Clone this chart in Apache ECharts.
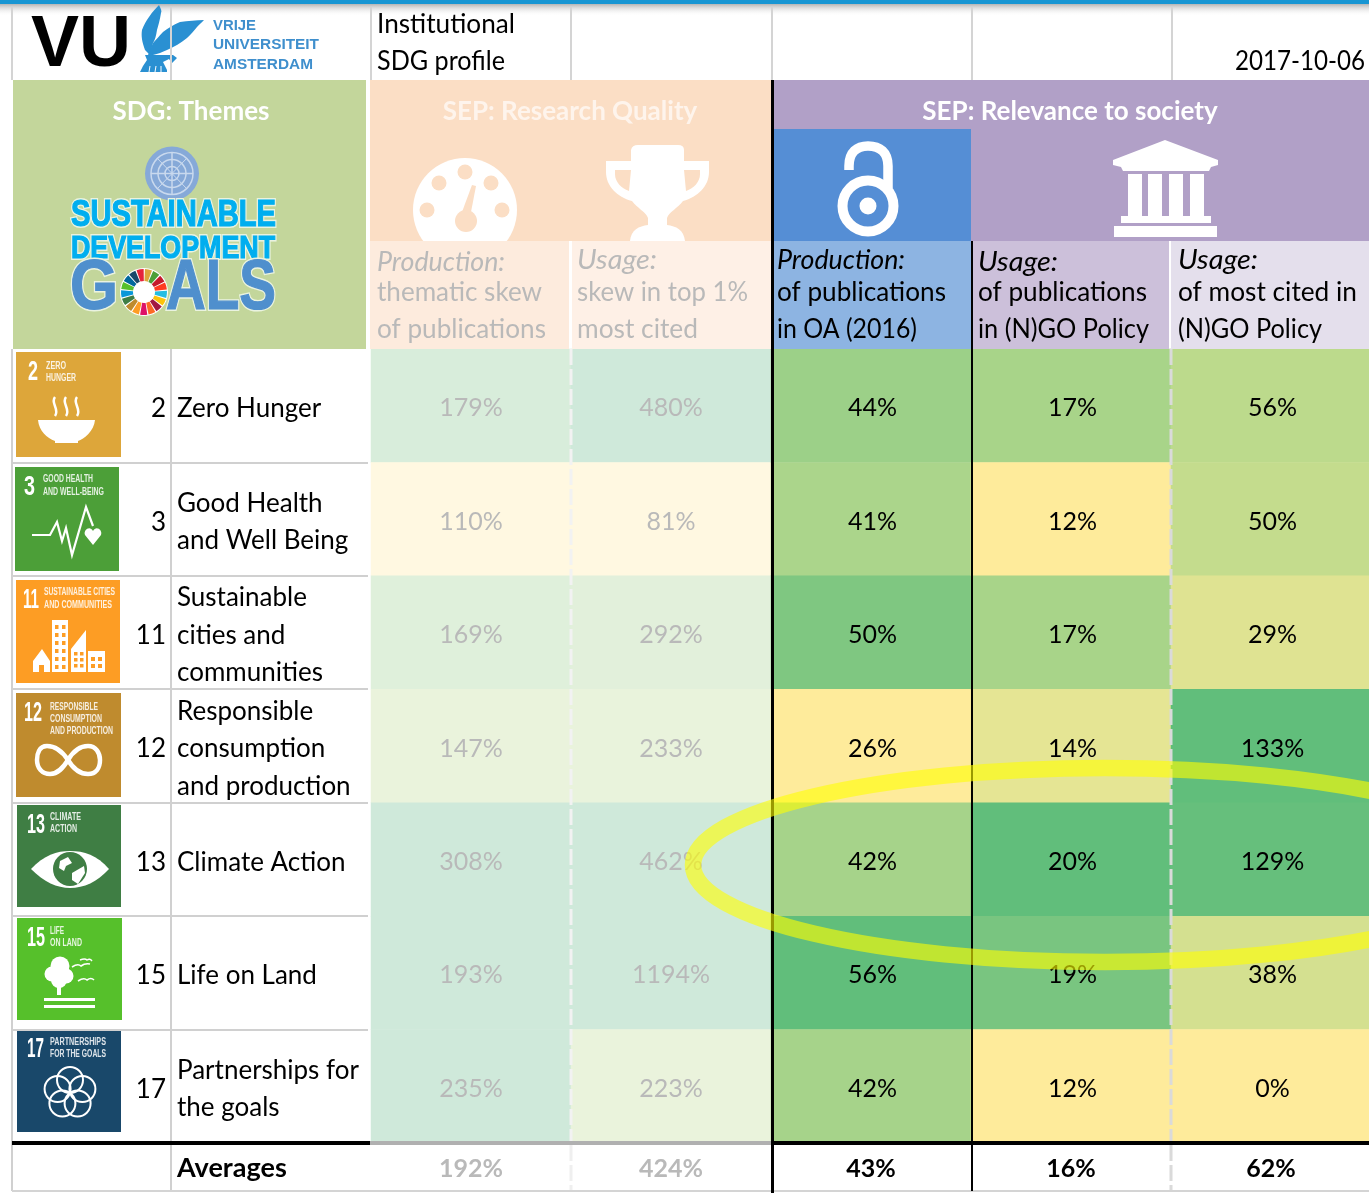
<!DOCTYPE html>
<html>
<head>
<meta charset="utf-8">
<title>Institutional SDG profile</title>
<script src="https://cdn.jsdelivr.net/npm/echarts@6/dist/echarts.min.js"></script>
<style>
    html, body { margin: 0; padding: 0; background: #fff; }
    #main { width: 1369px; height: 1193px; }
</style>
</head>
<body>
<div id="main"></div>
<script>
var sdgNumbers = ['2', '3', '11', '12', '13', '15', '17'];
var sdgThemes = ['Zero Hunger', 'Good Health\nand Well Being', 'Sustainable\ncities and\ncommunities', 'Responsible\nconsumption\nand production', 'Climate Action', 'Life on Land', 'Partnerships for\nthe goals'];
var columns = ['Production skew', 'Usage skew', 'Production OA', 'Usage publications', 'Usage most cited'];
var thematicSkew = [179, 110, 169, 147, 308, 193, 235];
var top1Skew = [480, 81, 292, 233, 462, 1194, 223];
var openAccess = [44, 41, 50, 26, 42, 56, 42];
var policyPubs = [17, 12, 17, 14, 20, 19, 12];
var policyCited = [56, 50, 29, 133, 129, 38, 0];
var averages = [192, 424, 43, 16, 62];

var FONT = 'Lato';
var FADED = '#B9B9B9';
var chart = echarts.init(document.getElementById('main'));
var ctx = document.createElement('canvas').getContext('2d');

function fit(text, font, w) {
    ctx.font = font;
    return w / ctx.measureText(text).width;
}
function T(x, y, text, font, fill, extra) {
    var el = { type: 'text', x: x, y: y, z: 10, style: { text: text, font: font, fill: fill, align: 'left', verticalAlign: 'middle' } };
    if (extra) {
        if (extra.w) el.scaleX = fit(text, font, extra.w);
        if (extra.align) el.style.align = extra.align;
        if (extra.stroke) { el.style.stroke = extra.stroke; el.style.lineWidth = extra.lw; }
    }
    return el;
}
function R(x, y, w, h, fill) {
    return { type: 'rect', z: 10, shape: { x: x, y: y, width: w, height: h }, style: { fill: fill } };
}
function L(x1, y1, x2, y2, stroke, lw, dash) {
    return { type: 'line', z: 20, shape: { x1: x1, y1: y1, x2: x2, y2: y2 }, style: { stroke: stroke, lineWidth: lw, lineDash: dash || null } };
}
function C(cx, cy, r, fill, stroke, lw) {
    return { type: 'circle', z: 10, shape: { cx: cx, cy: cy, r: r }, style: { fill: fill || 'none', stroke: stroke || null, lineWidth: lw || 0 } };
}
// the graphic component has no path type, so every svg path gets its own registered shape
var shapeCount = 0;
function P(d, fill, stroke, lw) {
    var name = 'iconPath' + (shapeCount++);
    echarts.graphic.registerShape(name, echarts.graphic.extendPath(d));
    return { type: name, z: 10, style: { fill: fill || 'none', stroke: stroke || null, lineWidth: lw || 0 } };
}

var els = [];
function add() { for (var i = 0; i < arguments.length; i++) els.push(arguments[i]); }
// logo lettering: white halo first, then the heavy letter on top
function mark(x, y, text, font, fill, w) {
    add(T(x, y, text, font, '#fff', { w: w, stroke: '#EAF3E0', lw: 4 }));
    add(T(x, y, text, font, fill, { w: w, stroke: fill, lw: 1.2 }));
}

// top bar of the window
add(R(0, 4, 1369, 12, { type: 'linear', x: 0, y: 0, x2: 0, y2: 1, colorStops: [{ offset: 0, color: 'rgba(120,120,120,0.55)' }, { offset: 1, color: 'rgba(255,255,255,0)' }] }));
add(R(0, 0, 1369, 4, '#1896D3'));
[12, 171, 371, 571, 772, 972, 1172].forEach(function (x) { add(L(x, 7, x, 80, '#D4D4D4', 2)); });

// VU logo
add(T(31, 46, 'VU', 'bold 72px "Liberation Sans"', '#000', { w: 100 }));
var griffin = '#2A90D2';
add(P('M159 5 C161 9 162 11 161 13 C160 20 158 26 157 30 C156 36 155 40 153 43 L150 55 L145 50 C142 42 141 36 142 30 C146 20 152 12 159 5 Z', griffin));
add(P('M204 20 C196 20 188 21 180 22 C173 25 168 28 163 32 C159 36 156 40 153 43 L148 55 L153 55 C158 54 162 52 167 50 C174 47 181 43 187 38 C191 34 194 31 197 27 C199 25 202 22 204 20 Z', griffin));
add(P('M145 55 L173 55 L177 58 L172 63 L169 59 L163 62 L167 70 L167 72 L140 72 L143 66 L147 60 Z', griffin));
add(L(150, 66, 149, 72, '#fff', 1), L(156, 66, 155, 72, '#fff', 1), L(161, 66, 161, 72, '#fff', 1));
add(T(213, 26, 'VRIJE', 'bold 15px "Liberation Sans"', '#3F8FCD', { w: 43 }));
add(T(213, 45, 'UNIVERSITEIT', 'bold 15px "Liberation Sans"', '#3F8FCD', { w: 106 }));
add(T(213, 65, 'AMSTERDAM', 'bold 15px "Liberation Sans"', '#3F8FCD', { w: 100 }));

// header texts
add(T(377, 24, 'Institutional', '27px ' + FONT, '#000', { w: 138 }));
add(T(377, 61, 'SDG profile', '27px ' + FONT, '#000', { w: 128 }));
add(T(1365, 61, '2017-10-06', '27px ' + FONT, '#000', { align: 'right', w: 130 }));

// header panels
add(R(13, 80, 353, 269, '#C3D69B'));
add(R(370, 80, 402, 161, '#FBDEC5'));
add(R(773, 80, 596, 161, '#B1A0C7'));
add(R(773, 129, 198, 112, '#558ED5'));
add(T(191, 112, 'SDG: Themes', 'bold 26px ' + FONT, '#fff', { align: 'center' }));
add(T(570, 112, 'SEP: Research Quality', 'bold 26px ' + FONT, '#FEF4EC', { align: 'center' }));
add(T(1070, 112, 'SEP: Relevance to society', 'bold 26px ' + FONT, '#fff', { align: 'center' }));

// UN emblem
add(C(172, 173.5, 27, '#86A9D8'));
add(C(172, 173.5, 21, 'none', '#C9D9EE', 1.5), C(172, 173.5, 14, 'none', '#C9D9EE', 1.5), C(172, 173.5, 7, '#7EA3D6', '#C9D9EE', 1.5));
add(L(172, 152, 172, 195, '#C9D9EE', 1.5), L(151, 173.5, 193, 173.5, '#C9D9EE', 1.5), L(157, 158, 187, 189, '#C9D9EE', 1), L(187, 158, 157, 189, '#C9D9EE', 1));
els.slice(-4).forEach(function (e) { e.z = 10; });

// SDG wordmark
mark(71, 216, 'SUSTAINABLE', 'bold 36px "Liberation Sans"', '#00AEEF', 205);
mark(71, 249, 'DEVELOPMENT', 'bold 32px "Liberation Sans"', '#00AEEF', 204);
mark(70, 290, 'G', 'bold 70px "Liberation Sans"', '#4F8FCD', 48);
mark(166, 290, 'ALS', 'bold 70px "Liberation Sans"', '#4F8FCD', 110);
var ringColors = ['#E5243B', '#DDA63A', '#4C9F38', '#C5192D', '#FF3A21', '#26BDE2', '#FCC30B', '#A21942', '#FD6925', '#DD1367', '#FD9D24', '#BF8B2E', '#3F7E44', '#0A97D9', '#56C02B', '#00689D', '#19486A'];
add(C(144, 292, 24, '#fff'));
ringColors.forEach(function (c, i) {
    add({ type: 'sector', z: 10, shape: { cx: 144, cy: 292, r: 23, r0: 11, startAngle: (i / 17) * Math.PI * 2 - 1.9, endAngle: ((i + 0.85) / 17) * Math.PI * 2 - 1.9 }, style: { fill: c } });
});

// speedometer
add(C(465, 210, 52, '#fff'));
[[465, 172], [439, 183], [491, 183], [427, 210], [502, 210]].forEach(function (d) { add(C(d[0], d[1], 7.5, '#FBDEC5')); });
add(P('M472 185 L476 186 L471 212 L462 212 Z', '#FBDEC5'), C(466, 221, 11, '#FBDEC5'));

// trophy
add(P('M631 150 Q632 145 638 145 L678 145 Q684 145 684 150 L684 161 L709 161 L709 172 C709 186 698 197 683 201 C678 208 669 212 667 218 L667 225 C676 226 684 230 685 241 L630 241 C631 230 639 226 648 225 L648 218 C646 212 637 208 632 201 C617 197 606 186 606 172 L606 161 L631 161 Z', '#fff'));
add(P('M615 170 L615 174 C615 182 621 188 629 191 L631 170 Z', '#FBDEC5'), P('M700 170 L700 174 C700 182 694 188 686 191 L684 170 Z', '#FBDEC5'));

// open access lock
add(P('M849 170 L849 166 C849 152 857 146 868 146 C880 146 888 152 888 166 L888 188', null, '#fff', 9.5));
add(C(868, 206, 25.5, 'none', '#fff', 10));
add(C(868, 206, 8.5, '#fff'));

// bank
add(P('M1165 140 L1218 160 L1218 165 L1211 167 L1209 171 L1123 171 L1121 167 L1113 165 L1113 160 Z', '#fff'));
[1128, 1148, 1169, 1190].forEach(function (x) { add(R(x, 174, 14, 42, '#fff')); });
add(R(1121, 216, 90, 7, '#fff'), R(1114, 226, 103, 11, '#fff'));

// sub headers
add(R(370, 241, 199, 108, '#FDEBDD'), R(572, 241, 199, 108, '#FEF0E6'));
add(R(773, 241, 198, 108, '#8DB4E2'), R(973, 241, 196, 108, '#CCC0DA'), R(1171, 241, 198, 108, '#E4DFEC'));
var subHeads = [
    [377, 262, 'Production:', 128, 'thematic skew', 165, 'of publications', 169, FADED],
    [577, 260, 'Usage:', 80, 'skew in top 1%', 171, 'most cited', 121, FADED],
    [777, 260, 'Production:', 128, 'of publications', 169, 'in OA (2016)', 140, '#000'],
    [978, 262, 'Usage:', 80, 'of publications', 169, 'in (N)GO Policy', 171, '#000'],
    [1178, 260, 'Usage:', 80, 'of most cited in', 179, '(N)GO Policy', 144, '#000']
];
subHeads.forEach(function (s) {
    add(T(s[0], s[1], s[2], 'italic 27px ' + FONT, s[8], { w: s[3] }));
    add(T(s[0], 292, s[4], '27px ' + FONT, s[8], { w: s[5] }));
    add(T(s[0], 329, s[6], '27px ' + FONT, s[8], { w: s[7] }));
});

// SDG tiles
var tiles = [
    { x: 16, y: 352, w: 105, h: 105, c: '#DDA63A', n: '2', nx: 12, nw: 10, tx: 30, lines: [['ZERO', 20, 14], ['HUNGER', 30, 26]] },
    { x: 15, y: 467, w: 104, h: 104, c: '#4C9F38', n: '3', nx: 9, nw: 11, tx: 28, lines: [['GOOD HEALTH', 50, 12], ['AND WELL-BEING', 61, 25]] },
    { x: 16, y: 580, w: 104, h: 103, c: '#FD9D24', n: '11', nx: 7, nw: 16, tx: 28, lines: [['SUSTAINABLE CITIES', 71, 12], ['AND COMMUNITIES', 68, 25]] },
    { x: 16, y: 693, w: 105, h: 104, c: '#BF8B2E', n: '12', nx: 8, nw: 18, tx: 34, lines: [['RESPONSIBLE', 48, 14], ['CONSUMPTION', 52, 26], ['AND PRODUCTION', 63, 38]] },
    { x: 17, y: 805, w: 104, h: 102, c: '#3F7E44', n: '13', nx: 10, nw: 18, tx: 33, lines: [['CLIMATE', 31, 12], ['ACTION', 27, 24]] },
    { x: 17, y: 918, w: 105, h: 102, c: '#56C02B', n: '15', nx: 10, nw: 18, tx: 33, lines: [['LIFE', 14, 13], ['ON LAND', 32, 25]] },
    { x: 17, y: 1029, w: 104, h: 103, c: '#19486A', n: '17', nx: 10, nw: 17, tx: 33, lines: [['PARTNERSHIPS', 56, 13], ['FOR THE GOALS', 56, 25]] }
];
tiles.forEach(function (t) {
    add(R(t.x, t.y, t.w, t.h, t.c));
    add(T(t.x + t.nx, t.y + 20, t.n, 'bold 28px "Liberation Sans"', '#fff', { w: t.nw }));
    t.lines.forEach(function (l) {
        add(T(t.x + t.tx, t.y + l[2], l[0], 'bold 10px "Liberation Sans"', 'rgba(255,255,255,0.85)', { w: l[1] }));
    });
});
// 2 bowl
add(P('M38 420 L95 420 C94 431 84 439 78 441 L78 443 L55 443 L55 441 C47 438 39 431 38 420 Z', '#fff'));
[55, 66, 77].forEach(function (x) { add(P('M' + x + ' 397 C' + (x - 5) + ' 403 ' + (x + 5) + ' 409 ' + x + ' 416', null, '#fff', 2.5)); });
// 3 heartbeat
add(P('M32 535 L50 535 L57 522 L62 541 L66 528 L72 555 L86 507 L93 526', null, '#fff', 2.2));
add(P('M93 545 L85 535 C83 530 90 525 93 531 C96 525 103 530 101 535 Z', '#fff'));
// 11 city
add(P('M33 661 L42 649 L50 661 L50 672 L44 672 L44 665 L39 665 L39 672 L33 672 Z', '#fff'));
add(R(52, 620, 16, 52, '#fff'));
for (var wy = 625; wy < 668; wy += 8) { add(R(55, wy, 3.5, 4, '#FD9D24'), R(62, wy, 3.5, 4, '#FD9D24')); }
add(P('M71 672 L71 649 L86 630 L86 672 Z', '#fff'));
for (var wy2 = 652; wy2 < 670; wy2 += 6) { add(R(74, wy2, 3.5, 3.5, '#FD9D24'), R(80, wy2, 3.5, 3.5, '#FD9D24')); }
add(R(88, 651, 17, 21, '#fff'));
add(R(91, 657, 4, 4, '#FD9D24'), R(98, 657, 4, 4, '#FD9D24'), R(91, 664, 4, 4, '#FD9D24'), R(98, 664, 4, 4, '#FD9D24'));
// 12 infinity
add(P('M68 760 C60 748 52 746 47 746 C39 746 37 754 37 760 C37 768 42 774 50 774 C58 774 63 768 68 760 C74 750 80 746 88 746 C96 746 100 753 100 760 C100 768 96 774 88 774 C80 774 74 770 68 760', null, '#fff', 4.5));
// 13 eye
add(P('M31 869 C44 855 57 851 70 851 C84 851 97 855 109 869 C97 882 84 888 70 888 C57 888 44 882 31 869 Z', '#fff'));
add(C(70, 869, 17, '#3F7E44'));
add(P('M60 861 L68 857 L72 863 L66 866 L64 871 L59 868 Z', '#fff'), P('M72 873 L84 866 L85 873 L78 884 L72 880 Z', '#fff'));
// 15 tree and birds
add(C(60, 966, 9.5, '#fff'), C(52, 974, 7.5, '#fff'), C(66, 976, 7.5, '#fff'), C(59, 980, 8, '#fff'));
add(R(57, 985, 4, 10, '#fff'), R(44, 998, 51, 3, '#fff'), R(44, 1005, 51, 3, '#fff'));
add(P('M72 967 Q78 963 81 966 Q85 963 90 964', null, '#fff', 1.6), P('M78 981 Q84 977 87 980 Q91 977 94 980', null, '#fff', 1.6), P('M80 960 Q85 958 87 960 Q90 958 92 961', null, '#fff', 1.4));
// 17 flower
[[70, 1080], [82.4, 1089], [77.6, 1103.5], [62.4, 1103.5], [57.6, 1089]].forEach(function (d) { add(C(d[0], d[1], 13, 'none', '#fff', 2)); });

// table lines
var rowLines = [463, 576, 689, 803, 916, 1030];
rowLines.forEach(function (y) { add(L(12, y, 368, y, '#D0D0D0', 2)); });
add(L(12, 349, 12, 1191, '#D0D0D0', 2), L(171, 349, 171, 1191, '#D0D0D0', 2));
add(L(12, 1191, 1369, 1191, '#D4D4D4', 2));
add(L(571, 349, 571, 1143, '#F2F2F2', 3, [16, 4]), L(1171, 349, 1171, 1143, '#DADADA', 3, [16, 4]));
add(L(571, 1145, 571, 1190, '#EFEFEF', 3, [16, 4]), L(1171, 1145, 1171, 1190, '#DADADA', 3, [16, 4]));
add(L(12, 1143, 370, 1143, '#000', 4), L(370, 1143, 772, 1143, '#B0B0B0', 4), L(772, 1143, 1369, 1143, '#000', 4));
add(L(772.5, 80, 772.5, 1193, '#000', 3), L(972, 241, 972, 1191, '#000', 2));

// the yellow marker circle
add({ type: 'ellipse', z: 100, shape: { cx: 1105, cy: 865, rx: 412, ry: 97 }, style: { fill: 'none', stroke: 'rgba(255,255,0,0.6)', lineWidth: 16.5 } });

function cells(col, values) {
    return values.map(function (v, row) { return [col, row, v]; });
}
function heatSeries(col, values, labelColor) {
    return {
        type: 'heatmap',
        xAxisIndex: 0,
        yAxisIndex: 0,
        data: cells(col, values),
        label: {
            show: true,
            color: labelColor,
            fontFamily: FONT,
            fontSize: 25,
            offset: [col > 1 ? 1.5 : 0, 2.5],
            formatter: function (p) { return p.value[2] + '%'; }
        }
    };
}
function scale(i, min, max, colors) {
    return { seriesIndex: i, show: false, min: min, max: max, inRange: { color: colors }, outOfRange: { color: [colors[colors.length - 1]] } };
}
function labelAxis(grid, data, label) {
    return {
        type: 'category', gridIndex: grid, position: 'left', inverse: true, data: data,
        axisLine: { show: false }, axisTick: { show: false }, splitLine: { show: false },
        axisLabel: label
    };
}

var option = {
    animation: false,
    backgroundColor: '#fff',
    grid: [
        { left: 371, top: 349, width: 1000, height: 794, outerBoundsMode: 'none' },
        { left: 371, top: 1145, width: 1000, height: 46, outerBoundsMode: 'none' },
        // same rows as the heat grid, a little lower: the row labels sit 3px under the band centre
        { left: 371, top: 352, width: 1000, height: 794, outerBoundsMode: 'none' }
    ],
    xAxis: [
        { type: 'category', gridIndex: 0, data: columns, show: false },
        { type: 'category', gridIndex: 1, data: columns, show: false },
        { type: 'category', gridIndex: 2, data: columns, show: false }
    ],
    yAxis: [
        { type: 'category', gridIndex: 0, inverse: true, data: sdgThemes, show: false },
        labelAxis(1, ['Averages'], { align: 'left', margin: 194, fontFamily: FONT, fontSize: 27, fontWeight: 'bold', color: '#000' }),
        labelAxis(2, sdgThemes, { interval: 0, align: 'left', margin: 194, fontFamily: FONT, fontSize: 26, lineHeight: 37.5, color: '#000' }),
        labelAxis(2, sdgNumbers, { interval: 0, align: 'right', margin: 205, fontFamily: FONT, fontSize: 26, color: '#000' })
    ],
    visualMap: [
        scale(0, 110, 193, ['#FFF8E1', '#F3F5DE', '#E8F3DB', '#DDEFDB', '#CFE9DA']),
        scale(1, 81, 462, ['#FFF8E1', '#F0F5DD', '#E4F1DB', '#D9ECDA', '#CFE9DA']),
        scale(2, 26, 56, ['#FEEB9B', '#ABD58B', '#61BE7B']),
        scale(3, 12, 20, ['#FEEB9B', '#E5E594', '#BFDC8D', '#90CC84', '#61BE7B']),
        scale(4, 0, 133, ['#FEEB9B', '#DBE291', '#ADD68A', '#87CA82', '#61BE7B']),
        scale(5, 0, 1000, ['#FFFFFF', '#FFFFFF'])
    ],
    series: [
        heatSeries(0, thematicSkew, FADED),
        heatSeries(1, top1Skew, FADED),
        heatSeries(2, openAccess, '#000'),
        heatSeries(3, policyPubs, '#000'),
        heatSeries(4, policyCited, '#000'),
        {
            type: 'heatmap',
            xAxisIndex: 1,
            yAxisIndex: 1,
            data: averages.map(function (v, col) { return { value: [col, 0, v], label: { color: col < 2 ? FADED : '#000' } }; }),
            label: {
                show: true,
                fontFamily: FONT,
                fontSize: 25,
                fontWeight: 'bold',
                offset: [0, 1],
                formatter: function (p) { return p.value[2] + '%'; }
            }
        }
    ],
    graphic: { elements: els }
};

chart.setOption(option);
</script>
</body>
</html>
